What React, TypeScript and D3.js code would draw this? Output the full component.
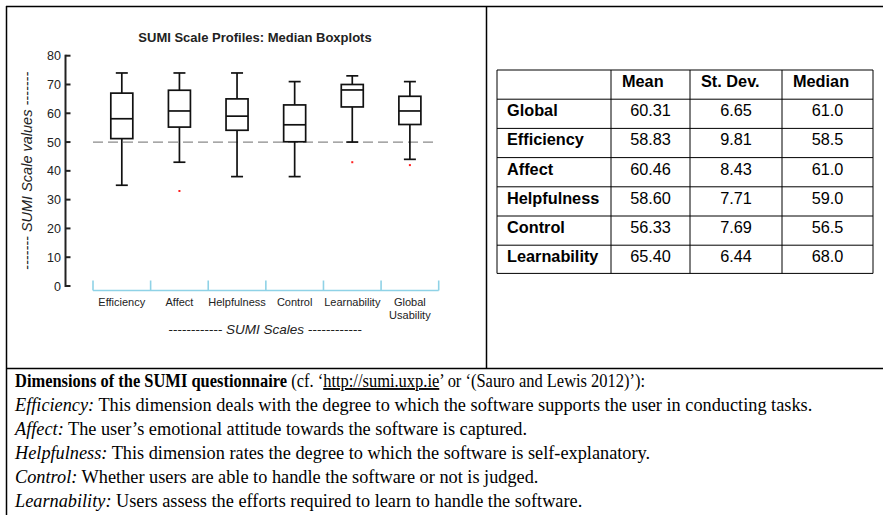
import { scaleBand, scaleLinear } from "d3";

// boxplot values
const categories = ["Efficiency", "Affect", "Helpfulness", "Control", "Learnability", "Global Usability"];
const whiskerLow = [35, 43, 38, 38, 50, 44];
const q1 = [51.2, 55.2, 54.1, 50.1, 62.2, 56.1];
const medianVals = [58.1, 60.8, 59, 56, 68.1, 60.8];
const q3 = [67, 68, 65, 62.9, 70, 65.9];
const whiskerHigh = [74, 74, 74, 71, 73, 71];
const outlierCats = ["Affect", "Learnability", "Global Usability"];
const outlierVals = [33, 43, 42];
const yTicks = [0, 10, 20, 30, 40, 50, 60, 70, 80];
const refLine = 50;

// table
const tableHeaders = ["Mean", "St. Dev.", "Median"];
const tableRows = ["Global", "Efficiency", "Affect", "Helpfulness", "Control", "Learnability"];
const means = ["60.31", "58.83", "60.46", "58.60", "56.33", "65.40"];
const sds = ["6.65", "9.81", "8.43", "7.71", "7.69", "6.44"];
const medians = ["61.0", "58.5", "61.0", "59.0", "56.5", "68.0"];

const sans = "'Liberation Sans', Arial, sans-serif";
const serif = "'Liberation Serif', 'Times New Roman', serif";

const App = () => {
  const width = 883;
  const height = 515;

  const x = scaleBand().domain(categories).range([93, 438.7]);
  const y = scaleLinear().domain([0, 80]).range([286, 55.7]);
  const boxW = 22;
  const capW = 12;
  const axisX = 65.5;

  // table layout
  const colX = [497, 611, 690, 782, 873];
  const rowY = (i: number) => 70 + i * 29.2;
  const cols = [means, sds, medians];

  return (
    <svg width={width} height={height} style={{ position: "absolute", left: 0, top: 0, background: "#fff" }}>
      {/* frame */}
      <g stroke="#000" strokeWidth={1.5} fill="none">
        <line x1={6} x2={883} y1={6.5} y2={6.5} />
        <line x1={6.5} x2={6.5} y1={6} y2={515} />
        <line x1={486.5} x2={486.5} y1={6} y2={368.5} />
        <line x1={6} x2={883} y1={368.5} y2={368.5} />
      </g>

      {/* chart */}
      <text x={255} y={42} textAnchor="middle" fontFamily={sans} fontSize={13} fontWeight="bold" fill="#222">
        SUMI Scale Profiles: Median Boxplots
      </text>

      <g stroke="#222" strokeWidth={2}>
        <line x1={axisX} x2={axisX} y1={y(0) + 1} y2={y(80) - 1} />
        {yTicks.map(t => (
          <line key={t} x1={axisX} x2={axisX + 5} y1={y(t)} y2={y(t)} />
        ))}
      </g>
      {yTicks.map(t => (
        <text key={t} x={61} y={y(t) + 4.5} textAnchor="end" fontFamily={sans} fontSize={12.5} fill="#222">{t}</text>
      ))}
      <text transform={`translate(32,${y(40)}) rotate(-90)`} textAnchor="middle" fontFamily={sans} fontSize={14.5} fontStyle="italic" fill="#222">
        ------- SUMI Scale values -------
      </text>

      {/* x band axis */}
      <g stroke="#8fd2e6" strokeWidth={1.6} fill="none">
        <line x1={x.range()[0]} x2={x.range()[1]} y1={290.5} y2={290.5} />
        {[...categories.map(c => x(c)!), x.range()[1]].map((v, i) => (
          <line key={i} x1={v} x2={v} y1={280.5} y2={290.5} />
        ))}
      </g>
      {categories.map(c => {
        const parts = c.split(" ");
        return (
          <text key={c} x={x(c)! + x.bandwidth() / 2} y={306} textAnchor="middle" fontFamily={sans} fontSize={11} fill="#222">
            {parts.map((p, i) => (
              <tspan key={i} x={x(c)! + x.bandwidth() / 2} dy={i === 0 ? 0 : 13}>{p}</tspan>
            ))}
          </text>
        );
      })}
      <text x={265} y={334} textAnchor="middle" fontFamily={sans} fontSize={13.5} fontStyle="italic" fill="#222">
        ------------ SUMI Scales ------------
      </text>

      {/* reference line */}
      <line x1={93} x2={435} y1={y(refLine)} y2={y(refLine)} stroke="#8a8a8a" strokeWidth={1.3} strokeDasharray="10,5" />

      {/* boxes */}
      {categories.map((c, i) => {
        const cx = x(c)! + x.bandwidth() / 2;
        return (
          <g key={c} stroke="#111" strokeWidth={1.7} fill="none">
            <line x1={cx} x2={cx} y1={y(whiskerHigh[i])} y2={y(q3[i])} />
            <line x1={cx} x2={cx} y1={y(q1[i])} y2={y(whiskerLow[i])} />
            <line x1={cx - capW / 2} x2={cx + capW / 2} y1={y(whiskerHigh[i])} y2={y(whiskerHigh[i])} />
            <line x1={cx - capW / 2} x2={cx + capW / 2} y1={y(whiskerLow[i])} y2={y(whiskerLow[i])} />
            <rect x={cx - boxW / 2} y={y(q3[i])} width={boxW} height={y(q1[i]) - y(q3[i])} fill="#fff" />
            <line x1={cx - boxW / 2} x2={cx + boxW / 2} y1={y(medianVals[i])} y2={y(medianVals[i])} />
          </g>
        );
      })}
      {outlierCats.map((c, i) => (
        <rect key={c} x={x(c)! + x.bandwidth() / 2 - 1} y={y(outlierVals[i]) - 1} width={2} height={2} fill="#ff2020" />
      ))}

      {/* table */}
      <g stroke="#000" strokeWidth={1}>
        {colX.map((cx, i) => (
          <line key={"c" + i} x1={cx} x2={cx} y1={rowY(0)} y2={rowY(7) - 1} />
        ))}
        {[0, 1, 2, 3, 4, 5, 6, 7].map(i => (
          <line key={"r" + i} x1={colX[0]} x2={colX[4]} y1={i === 7 ? rowY(7) - 1 : rowY(i)} y2={i === 7 ? rowY(7) - 1 : rowY(i)} />
        ))}
      </g>
      {tableHeaders.map((h, j) => (
        <text key={h} x={colX[j + 1] + 11} y={rowY(0) + 17} fontFamily={sans} fontSize={16.3} fontWeight="bold" fill="#000">{h}</text>
      ))}
      {tableRows.map((r, i) => (
        <g key={r}>
          <text x={colX[0] + 10} y={rowY(i + 1) + 17} fontFamily={sans} fontSize={16.3} fontWeight="bold" fill="#000">{r}</text>
          {cols.map((col, j) => (
            <text key={j} x={(colX[j + 1] + colX[j + 2]) / 2} y={rowY(i + 1) + 17} textAnchor="middle" fontFamily={sans} fontSize={16.3} fill="#000">{col[i]}</text>
          ))}
        </g>
      ))}

      {/* description */}
      <g fontFamily={serif} fontSize={18.3} fill="#000">
        <text transform="translate(15,387) scale(0.9,1)">
          <tspan fontWeight="bold">Dimensions of the SUMI questionnaire</tspan> (cf. ‘<tspan textDecoration="underline">http://sumi.uxp.ie</tspan>’ or ‘(Sauro and Lewis 2012)’):
        </text>
        <text x={15} y={411}><tspan fontStyle="italic">Efficiency:</tspan> This dimension deals with the degree to which the software supports the user in conducting tasks.</text>
        <text x={15} y={435}><tspan fontStyle="italic">Affect:</tspan> The user’s emotional attitude towards the software is captured.</text>
        <text x={15} y={459}><tspan fontStyle="italic">Helpfulness:</tspan> This dimension rates the degree to which the software is self-explanatory.</text>
        <text x={15} y={483}><tspan fontStyle="italic">Control:</tspan> Whether users are able to handle the software or not is judged.</text>
        <text x={15} y={507}><tspan fontStyle="italic">Learnability:</tspan> Users assess the efforts required to learn to handle the software.</text>
      </g>
    </svg>
  );
};

export default App;
